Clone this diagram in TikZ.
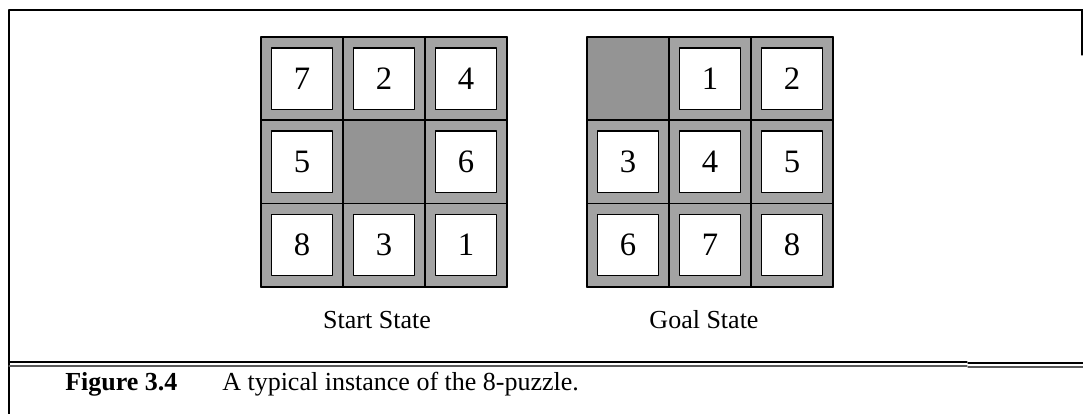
\documentclass[tikz,border=0pt]{standalone}
\usepackage{fontspec}
\setmainfont{Liberation Serif}
\definecolor{framegray}{gray}{0.64}
\definecolor{blankgray}{gray}{0.58}
\begin{document}
\begin{tikzpicture}[x=0.75pt, y=-0.75pt, line cap=round, line join=round,
    tile/.style={draw=black, line width=1pt, fill=white, minimum width=46pt, minimum height=46pt, inner sep=0pt, font=\fontsize{24.5}{24.5}\selectfont},
    label/.style={inner sep=0pt, font=\fontsize{19.5}{22}\selectfont}]
    \useasboundingbox (0,0) rectangle (1083,414);

    % frame of the figure
    \draw[line width=1.1pt] (9,414) -- (9,10) -- (1083,10);
    \draw[line width=0.8pt] (1082,10) -- (1082,55);
    \draw[line width=0.9pt] (9,362) -- (967,362);
    \draw[line width=0.9pt, gray!70!black] (9,366) -- (967,366);
    \draw[line width=0.8pt] (968,363) -- (1083,363);
    \draw[line width=0.8pt, gray!70!black] (968,367) -- (1083,367);

    % start state
    \fill[framegray] (261,37) rectangle (507,287);
    \fill[blankgray] (343,120) rectangle (425,204);
    \foreach \k in {0,1,2,3} {
        \draw[line width=1.3pt] ({261+82*\k},37) -- ({261+82*\k},287);
        \draw[line width=1.3pt] (261,{37+83.3*\k}) -- (507,{37+83.3*\k});
    }
    \foreach \c/\r/\v in {0/0/7,1/0/2,2/0/4,0/1/5,2/1/6,0/2/8,1/2/3,2/2/1}
        \node[tile] (s\v) at ({302+82*\c},{78.5+83.3*\r}) {\v};
    \node[label, anchor=base] (startlbl) at (377,328) {Start State};

    % goal state
    \fill[framegray] (587,37) rectangle (833,287);
    \fill[blankgray] (587,37) rectangle (669,120);
    \foreach \k in {0,1,2,3} {
        \draw[line width=1.3pt] ({587+82*\k},37) -- ({587+82*\k},287);
        \draw[line width=1.3pt] (587,{37+83.3*\k}) -- (833,{37+83.3*\k});
    }
    \foreach \c/\r/\v in {1/0/1,2/0/2,0/1/3,1/1/4,2/1/5,0/2/6,1/2/7,2/2/8}
        \node[tile] (g\v) at ({628+82*\c},{78.5+83.3*\r}) {\v};
    \node[label, anchor=base] (goallbl) at (704,328) {Goal State};

    % caption
    \node[label, anchor=base west] (fignum) at (65,390) {\textbf{Figure 3.4}};
    \node[label, anchor=base west] (figtext) at (222,390) {A typical instance of the 8-puzzle.};
\end{tikzpicture}
\end{document}
